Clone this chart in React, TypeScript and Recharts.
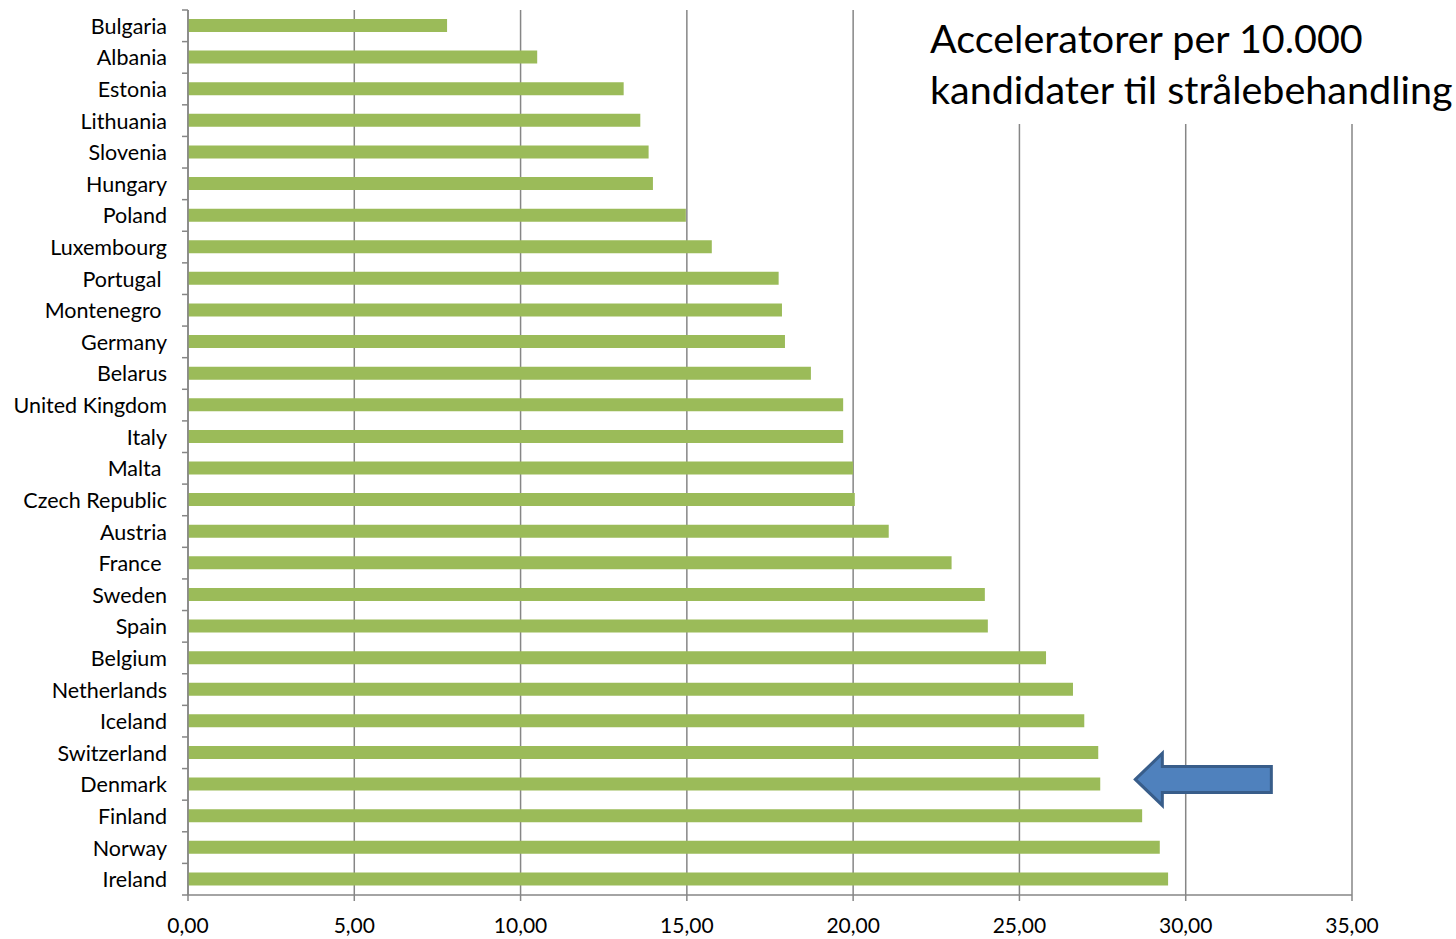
import { BarChart, Bar, XAxis, YAxis, CartesianGrid, ReferenceDot } from 'recharts'

const countries = [
  'Bulgaria', 'Albania', 'Estonia', 'Lithuania', 'Slovenia', 'Hungary', 'Poland',
  'Luxembourg', 'Portugal\u00a0', 'Montenegro\u00a0', 'Germany', 'Belarus', 'United Kingdom',
  'Italy', 'Malta\u00a0', 'Czech Republic', 'Austria', 'France\u00a0', 'Sweden', 'Spain',
  'Belgium', 'Netherlands', 'Iceland', 'Switzerland', 'Denmark', 'Finland', 'Norway', 'Ireland',
]
const values = [
  7.79, 10.5, 13.1, 13.6, 13.85, 13.98, 14.97,
  15.75, 17.76, 17.86, 17.95, 18.73, 19.7,
  19.7, 20.0, 20.05, 21.07, 22.96, 23.96, 24.05,
  25.8, 26.61, 26.95, 27.37, 27.43, 28.69, 29.22, 29.47,
]
const xTicks = [0, 5, 10, 15, 20, 25, 30, 35]
const titleLines = ['Acceleratorer per 10.000', 'kandidater til strålebehandling']
const markedCountry = 'Denmark'

const data = countries.map((c, i) => ({ country: c, value: values[i] }))

const FONT = 'Lato, "Open Sans", sans-serif'
const GRAY = '#868686'
const TOP = 10
const PLOT_H = 885

function CountryTick(props: any) {
  const { y, payload, index } = props
  const band = PLOT_H / countries.length
  const axisX = 188
  return (
    <g>
      <text x={167} y={y} dy={8} textAnchor="end" fontSize={21.5} fontFamily={FONT} fill="#000">
        {payload.value}
      </text>
      <line x1={axisX - 6} x2={axisX} y1={y - band / 2} y2={y - band / 2} stroke={GRAY} strokeWidth={1.5} />
      {index === countries.length - 1 && (
        <line x1={axisX - 6} x2={axisX} y1={y + band / 2} y2={y + band / 2} stroke={GRAY} strokeWidth={1.5} />
      )}
    </g>
  )
}

function Arrow(props: any) {
  const { cx, cy } = props
  const y0 = cy - 5
  const pts = [
    [cx - 68, y0],
    [cx - 41, y0 - 26],
    [cx - 41, y0 - 13],
    [cx + 68, y0 - 13],
    [cx + 68, y0 + 13],
    [cx - 41, y0 + 13],
    [cx - 41, y0 + 26],
  ].map((p) => p.join(',')).join(' ')
  return <polygon points={pts} fill="#4F81BD" stroke="#385D8A" strokeWidth={3} />
}

export default function App() {
  return (
    <div style={{ position: 'absolute', left: 0, top: 0, width: 1456, height: 939, background: '#fff' }}>
      <BarChart
        width={1456}
        height={939}
        data={data}
        layout="vertical"
        margin={{ top: TOP, right: 104, left: 0, bottom: 0 }}
        barCategoryGap={0}
      >
        <CartesianGrid vertical horizontal={false} stroke={GRAY} strokeWidth={1.5} verticalValues={xTicks} />
        <XAxis
          type="number"
          domain={[0, 35]}
          ticks={xTicks}
          height={44}
          axisLine={{ stroke: GRAY, strokeWidth: 1.5 }}
          tickLine={{ stroke: GRAY, strokeWidth: 1.5 }}
          tickSize={6}
          tick={{ fontSize: 21, fontFamily: FONT, fill: '#000', dy: 15 }}
          tickFormatter={(v: number) => v.toFixed(2).replace('.', ',')}
        />
        <YAxis
          type="category"
          dataKey="country"
          width={188}
          interval={0}
          axisLine={{ stroke: GRAY, strokeWidth: 1.5 }}
          tickLine={false}
          tick={<CountryTick />}
        />
        <Bar dataKey="value" fill="#9BBB59" barSize={13} isAnimationActive={false} />
        <ReferenceDot x={30.53} y={markedCountry} r={0} shape={<Arrow />} />
      </BarChart>
      <div
        style={{
          position: 'absolute', left: 920, top: 0, width: 536, height: 124, background: '#fff',
          fontFamily: FONT, fontSize: 39.5, lineHeight: '51px', color: '#000', paddingLeft: 10,
          paddingTop: 12, boxSizing: 'border-box', whiteSpace: 'nowrap',
        }}
      >
        {titleLines.map((l) => <div key={l}>{l}</div>)}
      </div>
    </div>
  )
}
